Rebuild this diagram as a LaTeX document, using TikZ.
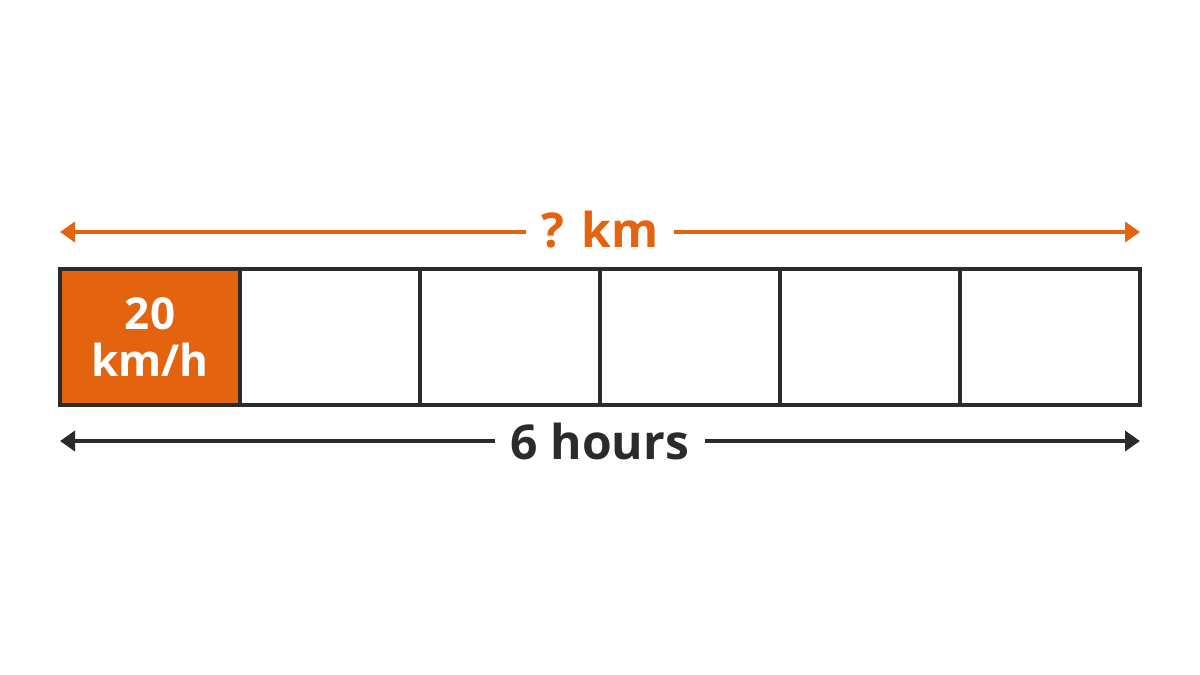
\documentclass[tikz,border=0pt]{standalone}
\usepackage{fontspec}
\setmainfont{Open Sans}
\usetikzlibrary{arrows.meta}
\definecolor{orng}{RGB}{228,99,15}
\definecolor{drk}{RGB}{43,43,43}
\begin{document}
\begin{tikzpicture}[x=1pt,y=-1pt,
  cell/.style={draw=drk,line width=4pt,minimum width=180pt,minimum height=136pt,inner sep=0pt,outer sep=0pt,anchor=north west},
  lbl/.style={font=\fontsize{48}{56}\selectfont\bfseries,inner xsep=16pt,inner ysep=0pt},
  arr/.style={line width=4pt,-{Triangle[length=15pt,width=20pt]}}]
\useasboundingbox (0,0) rectangle (1200,675);
\node[cell,fill=orng,align=center,text=white,font=\fontsize{44}{47}\selectfont\bfseries] (c1) at (60,269) {20\\km/h};
\node[cell] (c2) at (240,269) {};
\node[cell] (c3) at (420,269) {};
\node[cell] (c4) at (600,269) {};
\node[cell] (c5) at (780,269) {};
\node[cell] (c6) at (960,269) {};
\coordinate (tl) at (60,232);
\coordinate (tr) at (1140,232);
\node[lbl,text=orng] (km) at (600,230) {? km};
\draw[arr,orng] (km.west |- tl) -- (tl);
\draw[arr,orng] (km.east |- tr) -- (tr);
\coordinate (bl) at (60,441);
\coordinate (br) at (1140,441);
\node[lbl,text=drk] (hr) at (600,441) {6 hours};
\draw[arr,drk] (hr.west |- bl) -- (bl);
\draw[arr,drk] (hr.east |- br) -- (br);
\end{tikzpicture}
\end{document}
